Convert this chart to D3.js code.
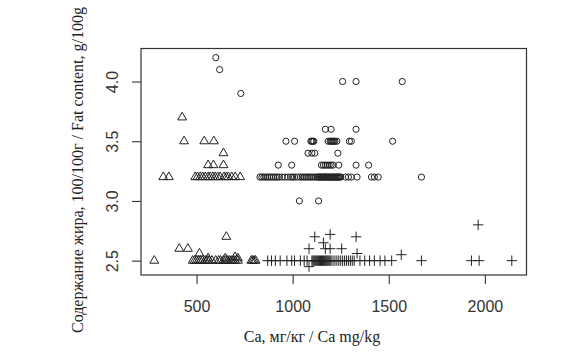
<!DOCTYPE html>
<html><head><meta charset="utf-8">
<script src="https://cdn.jsdelivr.net/npm/d3@7"></script>
<style>
html,body{margin:0;padding:0;background:#fff;}
svg{display:block;}
</style></head>
<body>
<svg id="chart" width="587" height="355"></svg>
<script>
// ---- data (Ca mg/kg vs fat g/100g), three groups ----
const circleX = [600, 620, 730, 1260, 1330, 1570,
  1170, 1200, 1330,
  965, 1010, 1095, 1100, 1105, 1110, 1185, 1195, 1200, 1205, 1210, 1215, 1220, 1230, 1295, 1305, 1520,
  1080, 1100, 1115, 1235,
  925, 995, 1150, 1160, 1170, 1180, 1190, 1200, 1210, 1240, 1330, 1395,
  830, 840, 850, 860, 870, 880, 890, 900, 910, 920, 930, 945, 960, 975, 990, 1000, 1010, 1025, 1040, 1050, 1060, 1070, 1080, 1090, 1100, 1110, 1120, 1130, 1135, 1140, 1145, 1150, 1155, 1160, 1165, 1170, 1175, 1180, 1185, 1190, 1195, 1200, 1205, 1210, 1215, 1220, 1225, 1230, 1235, 1240, 1245, 1250, 1275, 1290, 1305, 1335, 1410, 1425, 1445, 1670,
  1035, 1135];
const circleY = [4.2, 4.1, 3.9, 4.0, 4.0, 4.0,
  3.6, 3.6, 3.6,
  3.5, 3.5, 3.5, 3.5, 3.5, 3.5, 3.5, 3.5, 3.5, 3.5, 3.5, 3.5, 3.5, 3.5, 3.5, 3.5, 3.5,
  3.4, 3.4, 3.4, 3.4,
  3.3, 3.3, 3.3, 3.3, 3.3, 3.3, 3.3, 3.3, 3.3, 3.3, 3.3, 3.3,
  3.2, 3.2, 3.2, 3.2, 3.2, 3.2, 3.2, 3.2, 3.2, 3.2, 3.2, 3.2, 3.2, 3.2, 3.2, 3.2, 3.2, 3.2, 3.2, 3.2, 3.2, 3.2, 3.2, 3.2, 3.2, 3.2, 3.2, 3.2, 3.2, 3.2, 3.2, 3.2, 3.2, 3.2, 3.2, 3.2, 3.2, 3.2, 3.2, 3.2, 3.2, 3.2, 3.2, 3.2, 3.2, 3.2, 3.2, 3.2, 3.2, 3.2, 3.2, 3.2, 3.2, 3.2, 3.2, 3.2, 3.2, 3.2, 3.2, 3.2,
  3.0, 3.0];

const triangleX = [425, 435, 540, 590, 640, 560, 588, 640,
  327, 356, 493, 505, 519, 532, 545, 560, 571, 585, 597, 610, 623, 643, 655, 666, 683, 701, 727,
  655, 410, 455, 515,
  280, 480, 490, 500, 510, 520, 530, 545, 555, 565, 580, 600, 615, 625, 640, 650, 660, 670, 680, 690, 700, 715, 785, 792, 800, 807,
  560, 650, 700, 715];
const triangleY = [3.7, 3.5, 3.5, 3.5, 3.4, 3.3, 3.3, 3.3,
  3.2, 3.2, 3.2, 3.2, 3.2, 3.2, 3.2, 3.2, 3.2, 3.2, 3.2, 3.2, 3.2, 3.2, 3.2, 3.2, 3.2, 3.2, 3.2,
  2.7, 2.6, 2.6, 2.56,
  2.5, 2.5, 2.5, 2.5, 2.5, 2.5, 2.5, 2.5, 2.5, 2.5, 2.5, 2.5, 2.5, 2.5, 2.5, 2.5, 2.5, 2.5, 2.5, 2.5, 2.5, 2.5, 2.5, 2.5, 2.5, 2.5,
  2.52, 2.52, 2.53, 2.52];

const plusX = [1965, 1115, 1195, 1330, 1160, 1085, 1170, 1195, 1255, 1335, 1565, 1085,
  870, 890, 910, 935, 970, 995, 1010, 1040, 1060, 1075, 1100, 1105, 1110, 1115, 1120, 1125, 1130, 1135, 1140, 1145, 1150, 1155, 1160, 1165, 1170, 1175, 1180, 1185, 1190, 1195, 1200, 1210, 1220, 1230, 1240, 1250, 1260, 1270, 1280, 1290, 1300, 1310, 1320, 1350, 1375, 1400, 1425, 1455, 1480, 1515, 1670, 1930, 1970, 2140];
const plusY = [2.8, 2.7, 2.72, 2.7, 2.65, 2.6, 2.6, 2.6, 2.6, 2.56, 2.55, 2.45,
  2.5, 2.5, 2.5, 2.5, 2.5, 2.5, 2.5, 2.5, 2.5, 2.5, 2.5, 2.5, 2.5, 2.5, 2.5, 2.5, 2.5, 2.5, 2.5, 2.5, 2.5, 2.5, 2.5, 2.5, 2.5, 2.5, 2.5, 2.5, 2.5, 2.5, 2.5, 2.5, 2.5, 2.5, 2.5, 2.5, 2.5, 2.5, 2.5, 2.5, 2.5, 2.5, 2.5, 2.5, 2.5, 2.5, 2.5, 2.5, 2.5, 2.5, 2.5, 2.5, 2.5, 2.5];

const xTicks = [500, 1000, 1500, 2000];
const yTicks = [2.5, 3.0, 3.5, 4.0];
const xTitle = "Ca, мг/кг / Ca mg/kg";
const yTitle = "Содержание жира, 100/100г / Fat content, g/100g";

// ---- layout ----
const svg = d3.select("#chart");
const L = 141, R = 526.5, T = 48.5, B = 275;
const x = d3.scaleLinear().domain([211, 2216.5]).range([L, R]);
const y = d3.scaleLinear().domain([2.38, 4.2765]).range([B, T]);
const ink = "#222";

// points
const g = svg.append("g");
g.selectAll("circle.pt").data(d3.zip(circleX, circleY)).join("circle")
  .attr("class", "pt")
  .attr("cx", d => x(d[0])).attr("cy", d => y(d[1])).attr("r", 3.1)
  .attr("fill", "none").attr("stroke", ink).attr("stroke-width", 1);

const tri = d3.symbol().type(d3.symbolTriangle).size(34);
g.selectAll("path.tri").data(d3.zip(triangleX, triangleY)).join("path")
  .attr("class", "tri")
  .attr("transform", d => `translate(${x(d[0])},${y(d[1])})`)
  .attr("d", tri)
  .attr("fill", "none").attr("stroke", ink).attr("stroke-width", 1);

const ps = 5.2;
g.selectAll("path.plus").data(d3.zip(plusX, plusY)).join("path")
  .attr("class", "plus")
  .attr("d", d => {
    const cx = x(d[0]), cy = y(d[1]);
    return `M${cx - ps},${cy}H${cx + ps}M${cx},${cy - ps}V${cy + ps}`;
  })
  .attr("fill", "none").attr("stroke", ink).attr("stroke-width", 1);

// box
svg.append("rect").attr("x", L).attr("y", T).attr("width", R - L).attr("height", B - T)
  .attr("fill", "none").attr("stroke", "#333").attr("stroke-width", 1.2);

// axes
const xAxis = d3.axisBottom(x).tickValues(xTicks).tickSize(9).tickSizeOuter(0)
  .tickFormat(d3.format("d"));
const xa = svg.append("g").attr("transform", `translate(0,${B})`).call(xAxis);
xa.select(".domain").remove();
xa.selectAll(".tick line").attr("stroke", "#333").attr("stroke-width", 1.1);
xa.selectAll(".tick text").attr("font-family", "Liberation Sans, Arial, sans-serif")
  .attr("font-size", 16).attr("fill", "#333").attr("dy", "0.71em").attr("y", 25.5);

const yAxis = d3.axisLeft(y).tickValues(yTicks).tickSize(9).tickSizeOuter(0)
  .tickFormat(d3.format(".1f"));
const ya = svg.append("g").attr("transform", `translate(${L},0)`).call(yAxis);
ya.select(".domain").remove();
ya.selectAll(".tick line").attr("stroke", "#333").attr("stroke-width", 1.1);
ya.selectAll(".tick text")
  .attr("font-family", "Liberation Sans, Arial, sans-serif").attr("font-size", 16).attr("fill", "#333")
  .attr("x", null).attr("dy", null)
  .attr("text-anchor", "middle")
  .attr("transform", `translate(-23.5,0) rotate(-90)`);

// titles
svg.append("text").attr("x", 312).attr("y", 341.5).attr("text-anchor", "middle")
  .attr("font-family", "Liberation Serif, Times New Roman, serif").attr("font-size", 16).attr("fill", "#222")
  .text(xTitle);
svg.append("text").attr("transform", "translate(83,170) rotate(-90)").attr("text-anchor", "middle")
  .attr("font-family", "Liberation Serif, Times New Roman, serif").attr("font-size", 16).attr("fill", "#222")
  .text(yTitle);
</script>
</body></html>
